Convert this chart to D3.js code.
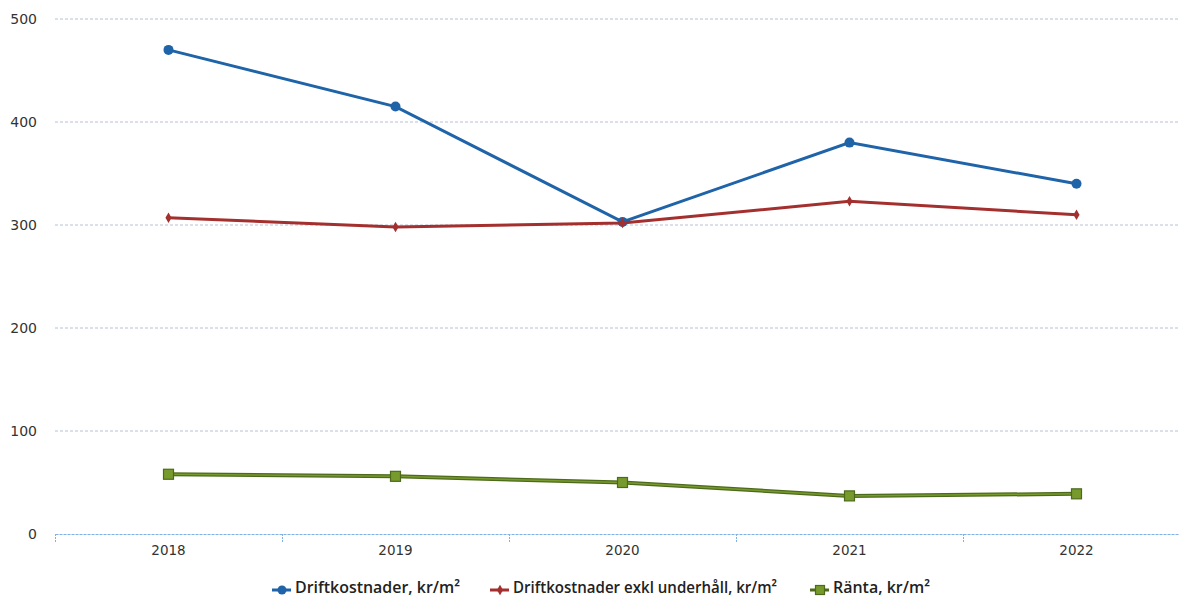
<!DOCTYPE html>
<html lang="sv">
<head>
  <meta charset="utf-8">
  <title>Kostnader kr/m²</title>
  <style>
    html, body { margin: 0; padding: 0; background: #fff; }
    #chart svg { display: block; }
    .tick text { font-family: "DejaVu Sans", sans-serif; fill: #333; }
    .legend text { font-family: "Open Sans", sans-serif; font-size: 17px; font-weight: 600; fill: #222; }
  </style>
</head>
<body>
  <div id="chart"></div>

  <script src="https://d3js.org/d3.v7.min.js"></script>
  <script>
    const years = ['2018', '2019', '2020', '2021', '2022'];
    const yTicks = [0, 100, 200, 300, 400, 500];

    const drift = [470, 415, 303, 380, 340];
    const driftExkl = [307, 298, 302, 323, 310];
    const ranta = [58, 56, 50, 37, 39];

    const seriesNames = ['Driftkostnader, kr/m²', 'Driftkostnader exkl underhåll, kr/m²', 'Ränta, kr/m²'];

    const width = 1179;
    const height = 598;
    const margin = { top: 19, right: -11, bottom: 64, left: 55 };

    const series = [
      { name: seriesNames[0], values: drift, color: '#1f63a8', marker: 'circle' },
      { name: seriesNames[1], values: driftExkl, color: '#a3302e', marker: 'diamond' },
      { name: seriesNames[2], values: ranta, color: '#779a2c', stroke: '#4d6a1c', marker: 'square' }
    ];

    const x = d3.scaleBand()
      .domain(years)
      .range([margin.left, width - margin.right]);
    const y = d3.scaleLinear()
      .domain([0, 500])
      .range([height - margin.bottom, margin.top]);

    const svg = d3.select('#chart').append('svg')
      .attr('width', width)
      .attr('height', height);

    // horizontal grid
    svg.append('g')
      .selectAll('line')
      .data(yTicks.filter(d => d > 0))
      .enter().append('line')
      .attr('x1', margin.left)
      .attr('x2', width)
      .attr('y1', d => y(d))
      .attr('y2', d => y(d))
      .attr('stroke', '#b8c0d4')
      .attr('stroke-width', 1)
      .attr('stroke-dasharray', '3,2');

    // y axis labels
    const yAxis = d3.axisLeft(y).tickValues(yTicks).tickSize(0).tickPadding(0);
    svg.append('g')
      .attr('class', 'y axis')
      .attr('transform', `translate(37,0)`)
      .call(yAxis)
      .call(g => g.select('.domain').remove())
      .selectAll('text').style('font-size', '14px');

    // x axis
    const xAxis = d3.axisBottom(x).tickSize(0).tickPadding(11);
    const gx = svg.append('g')
      .attr('class', 'x axis')
      .attr('transform', `translate(0,${y(0)})`)
      .call(xAxis);
    gx.select('.domain')
      .attr('stroke', '#7fb0e6')
      .attr('stroke-dasharray', '3,1');
    gx.selectAll('text').style('font-size', '13.5px');

    // category separators
    svg.append('g')
      .selectAll('line')
      .data(years)
      .enter().append('line')
      .attr('x1', d => x(d) + 0.5)
      .attr('x2', d => x(d) + 0.5)
      .attr('y1', y(0))
      .attr('y2', y(0) + 9)
      .attr('stroke', '#7fb0e6')
      .attr('stroke-dasharray', '2,1');

    const cx = (d, i) => x(years[i]) + x.bandwidth() / 2;

    const line = d3.line()
      .x((d, i) => cx(d, i))
      .y(d => y(d));

    function drawMarker(g, s, px, py, r) {
      if (s.marker === 'circle') {
        g.append('circle').attr('cx', px).attr('cy', py).attr('r', r)
          .attr('fill', s.color);
      } else if (s.marker === 'diamond') {
        g.append('path')
          .attr('d', d3.symbol(d3.symbolDiamond, r * r * 1.6)())
          .attr('transform', `translate(${px},${py})`)
          .attr('fill', s.color);
      } else {
        g.append('rect')
          .attr('x', px - r).attr('y', py - r)
          .attr('width', r * 2).attr('height', r * 2)
          .attr('fill', s.color)
          .attr('stroke', s.stroke).attr('stroke-width', 1.2);
      }
    }

    series.forEach(s => {
      const g = svg.append('g').attr('class', 'series');
      g.append('path')
        .datum(s.values)
        .attr('d', line)
        .attr('fill', 'none')
        .attr('stroke', s.stroke ? s.stroke : s.color)
        .attr('stroke-width', s.stroke ? 4 : 3);
      if (s.stroke) {
        g.append('path')
          .datum(s.values)
          .attr('d', line)
          .attr('fill', 'none')
          .attr('stroke', s.color)
          .attr('stroke-width', 1.5);
      }
      s.values.forEach((v, i) => {
        drawMarker(g, s, cx(v, i), y(v), s.marker === 'circle' ? 5 : (s.marker === 'diamond' ? 4.5 : 5));
      });
    });

    // legend: marker start, text start and text width for each entry
    const legendX = [272, 490, 810];
    const legendW = [165, 264, 97];
    const legend = svg.append('g').attr('class', 'legend');
    series.forEach((s, i) => {
      const lg = legend.append('g').attr('transform', `translate(${legendX[i]},590)`);
      lg.append('line')
        .attr('x1', 0).attr('x2', 19)
        .attr('y1', 0).attr('y2', 0)
        .attr('stroke', s.stroke ? s.stroke : s.color)
        .attr('stroke-width', 3);
      drawMarker(lg, s, 10, 0, 4.5);
      lg.append('text')
        .attr('x', 23)
        .attr('y', 3)
        .attr('textLength', legendW[i])
        .attr('lengthAdjust', 'spacingAndGlyphs')
        .text(s.name);
    });
  </script>
</body>
</html>
